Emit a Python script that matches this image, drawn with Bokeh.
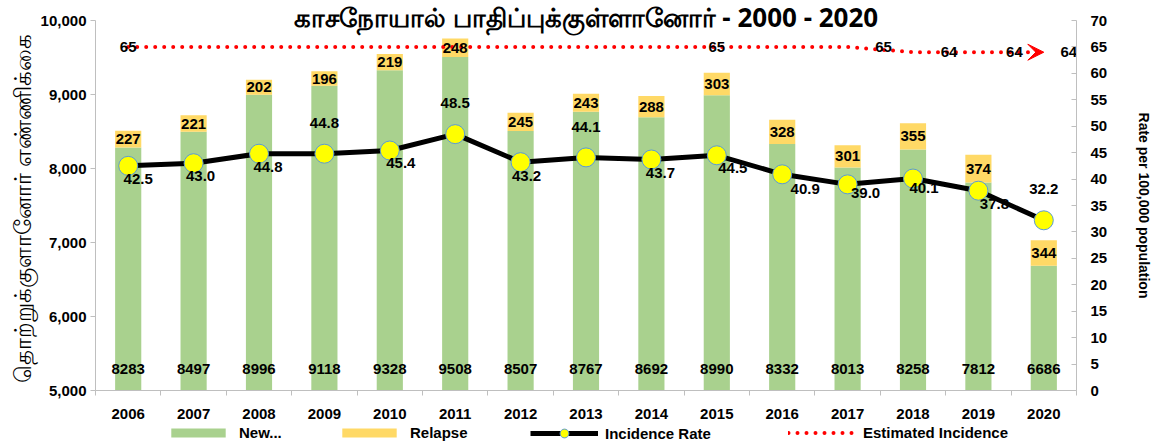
from bokeh.plotting import figure
from bokeh.layouts import column
from bokeh.models import (Range1d, LinearAxis, FixedTicker, NumeralTickFormatter,
                          Legend, LegendItem, Arrow, VeeHead)
from bokeh.core.properties import value
from bokeh.embed import file_html
from bokeh.resources import INLINE

# ---------------- data ----------------
years = [2006, 2007, 2008, 2009, 2010, 2011, 2012, 2013, 2014, 2015, 2016, 2017, 2018, 2019, 2020]
new_cases = [8283, 8497, 8996, 9118, 9328, 9508, 8507, 8767, 8692, 8990, 8332, 8013, 8258, 7812, 6686]
relapse = [227, 221, 202, 196, 219, 248, 245, 243, 288, 303, 328, 301, 355, 374, 344]
incidence_rate = [42.5, 43.0, 44.8, 44.8, 45.4, 48.5, 43.2, 44.1, 43.7, 44.5, 40.9, 39.0, 40.1, 37.8, 32.2]
estimated = [65, 65, 65, 65, 65, 65, 65, 65, 65, 65, 65, 65, 64, 64, 64]
estimated_labels = ["65", "", "", "", "", "", "", "", "", "65", "", "65", "64", "64", "64"]

left_ticks = [5000, 6000, 7000, 8000, 9000, 10000]
right_ticks = [0, 5, 10, 15, 20, 25, 30, 35, 40, 45, 50, 55, 60, 65, 70]

series_names = ["New...", "Relapse", "Incidence Rate", "Estimated Incidence"]
title_text = "காசநோயால் பாதிப்புக்குள்ளானோர் - 2000 - 2020"
left_title = "தொற்றுக்குளானோர்  எண்ணிக்கை"
right_title = "Rate per 100,000 population"

# ---------------- style ----------------
FONT = "Liberation Sans"
GREEN = "#A9D18E"
YELLOW = "#FFD966"
AXIS_GRAY = "#BFBFBF"
W = 1155

stack_top = [n + r for n, r in zip(new_cases, relapse)]
relapse_mid = [n + r / 2 for n, r in zip(new_cases, relapse)]
base_y = [left_ticks[0]] * len(years)

# label offsets (pixels) for the data labels
rate_dx = [10, 7, 9, 0, 11, 0, 6, 0, 9, 16, 23, 18, 11, 16, 0]
rate_dy = [13, 13, 13, -31, 12, -31, 14, -30, 13, 13, 15, 9, 9, 13, -31]
est_dx = [0, 0, 0, 0, 0, 0, 0, 0, 0, 0, 0, 36, 36, 36, 25]

p = figure(width=W, height=422,
           x_range=Range1d(years[0] - 0.5, years[-1] + 0.5),
           y_range=Range1d(left_ticks[0], left_ticks[-1]),
           output_backend="svg", toolbar_location=None,
           min_border_left=95, min_border_right=78, min_border_top=20, min_border_bottom=32)
p.extra_y_ranges = {"rate": Range1d(right_ticks[0], right_ticks[-1])}
p.outline_line_color = None
p.xgrid.visible = False
p.ygrid.visible = False

# title (drawn in the top border, overlapping the frame edge like the original)
p.title.text = title_text
p.title.align = "center"
p.title.text_font = "Noto Sans"
p.title.text_font_style = "bold"
p.title.text_font_size = "26px"
p.title.text_color = "black"
p.title.vertical_align = "bottom"
try:
    p.title.standoff = -29
except Exception:
    p.title.standoff = 0

# bars
r_new = p.vbar(x=years, bottom=0, top=new_cases, width=0.4, fill_color=GREEN, line_color=None)
r_rel = p.vbar(x=years, bottom=new_cases, top=stack_top, width=0.4, fill_color=YELLOW, line_color=None)

# estimated incidence (dotted red with arrow head)
r_est = p.line(x=years, y=estimated, y_range_name="rate", line_color="red", line_width=4,
               line_dash="0 9", line_cap="round")
arrow = Arrow(end=VeeHead(size=16, fill_color="red", line_color="red"),
              x_start=years[-2] + 0.6, y_start=estimated[-1], x_end=years[-1], y_end=estimated[-1],
              y_range_name="rate", line_alpha=0)
p.add_layout(arrow)

# incidence rate
r_line = p.line(x=years, y=incidence_rate, y_range_name="rate", line_color="black", line_width=5)
r_pts = p.scatter(x=years, y=incidence_rate, y_range_name="rate", size=19,
                  fill_color="#FFFF00", line_color="#5B9BD5", line_width=1)

# labels
lab = dict(text_font=value(FONT), text_font_style="bold", text_font_size="15px",
           text_color="black", text_align="center", text_baseline="middle")
p.text(x=years, y=base_y, text=[str(v) for v in new_cases], y_offset=-22, **lab)
p.text(x=years, y=relapse_mid, text=[str(v) for v in relapse], **lab)
p.text(x=years, y=incidence_rate, text=[f"{v:.1f}" for v in incidence_rate],
       x_offset=rate_dx, y_offset=rate_dy, y_range_name="rate", **lab)
p.text(x=years, y=estimated, text=estimated_labels, x_offset=est_dx,
       y_range_name="rate", **lab)

# x axis
xa = p.xaxis[0]
xa.ticker = FixedTicker(ticks=years, minor_ticks=[y - 0.5 for y in years] + [years[-1] + 0.5])
xa.major_tick_out = 0
xa.major_tick_in = 0
xa.minor_tick_out = 5
xa.minor_tick_in = 0
xa.axis_line_color = AXIS_GRAY
xa.minor_tick_line_color = AXIS_GRAY
xa.major_label_text_font = FONT
xa.major_label_text_font_style = "bold"
xa.major_label_text_font_size = "15px"
xa.major_label_text_color = "black"
xa.major_label_standoff = 13

# left axis
ya = p.yaxis[0]
ya.ticker = FixedTicker(ticks=left_ticks)
ya.formatter = NumeralTickFormatter(format="0,0")
ya.axis_line_color = AXIS_GRAY
ya.major_tick_line_color = AXIS_GRAY
ya.major_tick_out = 5
ya.major_tick_in = 0
ya.minor_tick_line_color = None
ya.major_label_text_font = FONT
ya.major_label_text_font_style = "bold"
ya.major_label_text_font_size = "15px"
ya.major_label_text_color = "black"
ya.major_label_standoff = 4
ya.axis_label = left_title
ya.axis_label_text_font = "Noto Sans"
ya.axis_label_text_font_style = "normal"
ya.axis_label_text_font_size = "23px"
ya.axis_label_text_color = "black"
ya.axis_label_standoff = 0

# right axis
ra = LinearAxis(y_range_name="rate", ticker=FixedTicker(ticks=right_ticks))
ra.axis_line_color = AXIS_GRAY
ra.major_tick_line_color = AXIS_GRAY
ra.major_tick_out = 0
ra.major_tick_in = 5
ra.minor_tick_line_color = None
ra.major_label_text_font = FONT
ra.major_label_text_font_style = "bold"
ra.major_label_text_font_size = "15px"
ra.major_label_text_color = "black"
ra.major_label_standoff = 14
ra.axis_label = right_title
ra.axis_label_text_font = FONT
ra.axis_label_text_font_style = "bold"
ra.axis_label_text_font_size = "14px"
ra.axis_label_text_color = "black"
ra.axis_label_standoff = 26
p.add_layout(ra, "right")

# ---------------- legend strip (separate figure under the chart) ----------------
LG_H = 22
lg = figure(width=W, height=LG_H, x_range=Range1d(0, 1), y_range=Range1d(0, 1),
            output_backend="svg", toolbar_location=None, x_axis_type=None, y_axis_type=None,
            min_border=0)
lg.outline_line_color = None
lg.xgrid.visible = False
lg.ygrid.visible = False
# hidden copies of the series, only used to draw the legend swatches
l_new = lg.vbar(x=years, top=new_cases, width=0.4, fill_color=GREEN, line_color=None, visible=False)
l_rel = lg.vbar(x=years, top=stack_top, width=0.4, fill_color=YELLOW, line_color=None, visible=False)
l_line = lg.line(x=years, y=incidence_rate, line_color="black", line_width=5, visible=False)
l_pts = lg.scatter(x=years, y=incidence_rate, size=19, fill_color="#FFFF00",
                   line_color="#5B9BD5", line_width=1, visible=False)
l_est = lg.line(x=years, y=estimated, line_color="red", line_width=4, line_dash="0 9",
                line_cap="round", visible=False)

legend_specs = [
    (series_names[0], [l_new], 69, 11),
    (series_names[1], [l_rel], 240, 11),
    (series_names[2], [l_line, l_pts], 435, 22),
    (series_names[3], [l_est], 693, 11),
]
for name, rends, xpos, gh in legend_specs:
    h = max(gh, 16)
    lgd = Legend(items=[LegendItem(label=name, renderers=rends)],
                 location=(xpos, (LG_H - h) // 2), orientation="horizontal")
    lgd.glyph_width = 68
    lgd.glyph_height = gh
    lgd.label_standoff = 7
    lgd.padding = 0
    lgd.margin = 0
    lgd.spacing = 0
    lgd.border_line_color = None
    lgd.background_fill_alpha = 0
    lgd.label_text_font = FONT
    lgd.label_text_font_style = "bold"
    lgd.label_text_font_size = "15px"
    lgd.label_text_color = "black"
    lgd.label_height = 16
    lg.add_layout(lgd)

open("out.html", "w").write(file_html(column(p, lg, spacing=0), INLINE))
